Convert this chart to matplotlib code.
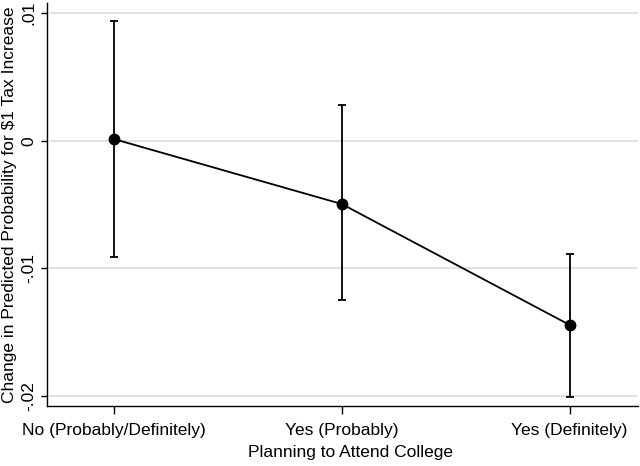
import numpy as np
import matplotlib.pyplot as plt

plt.rcParams['font.family'] = ['Liberation Sans', 'DejaVu Sans']

categories = ['No (Probably/Definitely)', 'Yes (Probably)', 'Yes (Definitely)']
estimate = [0.00013, -0.00496, -0.01443]
ci_low = [-0.00911, -0.01248, -0.02008]
ci_high = [0.00938, 0.0028, -0.00887]
yticks = [-0.02, -0.01, 0, 0.01]
ytick_labels = ['-.02', '-.01', '0', '.01']

x = np.arange(1, len(categories) + 1)
est = np.array(estimate)
err = [est - np.array(ci_low), np.array(ci_high) - est]

fig = plt.figure(figsize=(6.4, 4.66), dpi=100)
ax = fig.add_axes([0.0734, 0.1288, 0.9234, 0.8648])

for yv in yticks:
    ax.axhline(yv, xmin=0.005, xmax=0.998, color='#dcdcdc', lw=1.2, zorder=0)

ax.errorbar(x, est, yerr=err, fmt='none', ecolor='black', elinewidth=1.3,
            capsize=3.2, capthick=1.3, zorder=2)
ax.plot(x, est, color='black', lw=1.3, marker='o', markersize=7.5, zorder=3)

ax.set_xlim(0.706, 3.3)
ax.set_ylim(-0.02078, 0.01079)
ax.set_xticks(x)
ax.set_xticklabels(categories, fontsize=12.5)
ax.set_yticks(yticks)
ax.set_yticklabels(ytick_labels, fontsize=12.5, rotation=90, va='center')
ax.tick_params(axis='both', width=1, color='black')
ax.tick_params(axis='x', length=5.5, pad=6.5)
ax.tick_params(axis='y', length=4.5, pad=3)
ax.set_xlabel('Planning to Attend College', fontsize=12.5)
ax.xaxis.set_label_coords(0.513, -0.096)
ax.set_ylabel('Change in Predicted Probability for $1 Tax Increase', fontsize=12.5, labelpad=3)

for s in ['top', 'right']:
    ax.spines[s].set_visible(False)
for s in ['left', 'bottom']:
    ax.spines[s].set_linewidth(1)

fig.savefig('out.png', dpi=100)
